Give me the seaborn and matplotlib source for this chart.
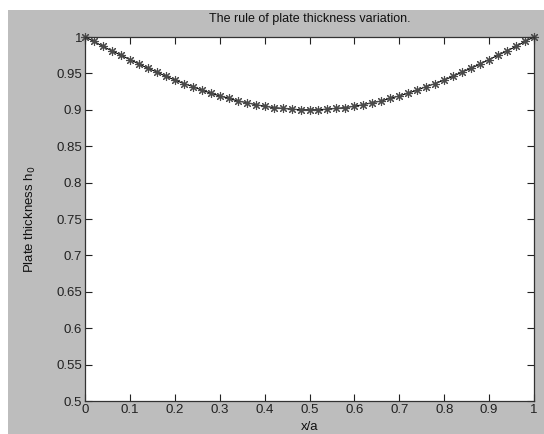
import numpy as np
import matplotlib
matplotlib.use("Agg")
import matplotlib.pyplot as plt
from matplotlib.patches import Rectangle
import seaborn as sns

# Data
x_vals = [0.00, 0.02, 0.04, 0.06, 0.08, 0.10, 0.12, 0.14, 0.16, 0.18,
          0.20, 0.22, 0.24, 0.26, 0.28, 0.30, 0.32, 0.34, 0.36, 0.38,
          0.40, 0.42, 0.44, 0.46, 0.48, 0.50, 0.52, 0.54, 0.56, 0.58,
          0.60, 0.62, 0.64, 0.66, 0.68, 0.70, 0.72, 0.74, 0.76, 0.78,
          0.80, 0.82, 0.84, 0.86, 0.88, 0.90, 0.92, 0.94, 0.96, 0.98, 1.00]
thickness = [1.000, 0.994, 0.987, 0.981, 0.975, 0.969, 0.963, 0.957, 0.952, 0.946,
             0.941, 0.936, 0.932, 0.927, 0.923, 0.919, 0.916, 0.912, 0.910, 0.907,
             0.905, 0.903, 0.902, 0.901, 0.900, 0.900, 0.900, 0.901, 0.902, 0.903,
             0.905, 0.907, 0.910, 0.912, 0.916, 0.919, 0.923, 0.927, 0.932, 0.936,
             0.941, 0.946, 0.952, 0.957, 0.963, 0.969, 0.975, 0.981, 0.987, 0.994, 1.000]
x_ticks = [0, 0.1, 0.2, 0.3, 0.4, 0.5, 0.6, 0.7, 0.8, 0.9, 1]
x_tick_labels = ["0", "0.1", "0.2", "0.3", "0.4", "0.5", "0.6", "0.7", "0.8", "0.9", "1"]
y_ticks = [0.5, 0.55, 0.6, 0.65, 0.7, 0.75, 0.8, 0.85, 0.9, 0.95, 1]
y_tick_labels = ["0.5", "0.55", "0.6", "0.65", "0.7", "0.75", "0.8", "0.85", "0.9", "0.95", "1"]

sns.set_style("ticks")
plt.rcParams['font.family'] = ['Liberation Sans', 'DejaVu Sans']

W, H = 544, 434
fig = plt.figure(figsize=(W / 100, H / 100), dpi=100, facecolor="white")
gray = "#bdbdbd"
fig.patches.append(Rectangle((8 / W, 0), 1 - 8 / W, (H - 10) / H,
                             transform=fig.transFigure, facecolor=gray,
                             edgecolor="none", zorder=-10))

left, right, top, bottom = 85, 534, 37, 401
ax = fig.add_axes([left / W, (H - bottom) / H, (right - left) / W, (bottom - top) / H])
ax.set_facecolor("white")

sns.lineplot(x=x_vals, y=thickness, ax=ax, color="black", linewidth=0.8,
             marker=(8, 2, 0), markersize=6.5, markeredgewidth=0.8,
             markeredgecolor="#4a4a4a", clip_on=False)

ax.set_xlim(0, 1)
ax.set_ylim(0.5, 1)
ax.set_xticks(x_ticks)
ax.set_xticklabels(x_tick_labels)
ax.set_yticks(y_ticks)
ax.set_yticklabels(y_tick_labels)
ax.tick_params(direction="in", length=5, width=0.8, top=True, right=True,
               labelsize=9.5, colors="#222222", pad=2)
for s in ax.spines.values():
    s.set_color("#333333")
    s.set_linewidth(0.9)

ax.set_title("The rule of plate thickness variation.", fontsize=9, color="#111111", pad=11)
ax.set_xlabel("x/a", fontsize=9.5, color="#111111", labelpad=4)
ax.set_ylabel("Plate thickness h$_0$", fontsize=9.5, color="#111111", labelpad=13)

fig.savefig("out.png", dpi=100, facecolor="white")
